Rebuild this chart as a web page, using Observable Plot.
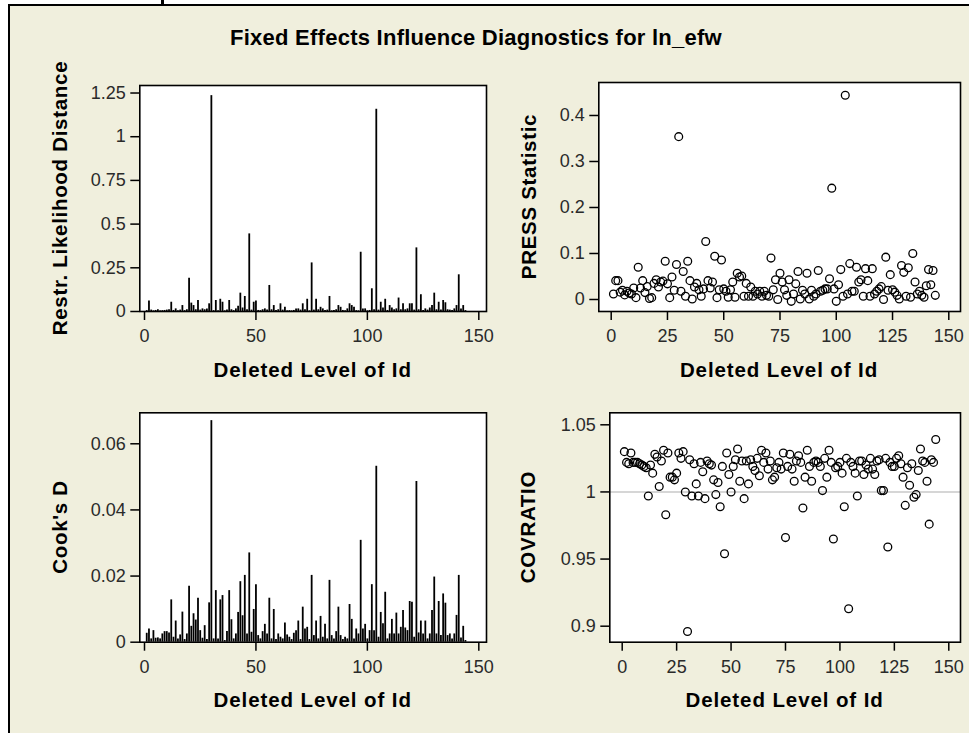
<!DOCTYPE html>
<html>
<head>
<meta charset="utf-8">
<script src="https://cdn.jsdelivr.net/npm/d3@7"></script>
<script src="https://cdn.jsdelivr.net/npm/@observablehq/plot@0.6"></script>
<style>
  html, body { margin: 0; padding: 0; background: #ffffff; }
  #page { position: relative; width: 969px; height: 733px; overflow: hidden; background: #ffffff; }
  #panel { position: absolute; left: 7.5px; top: 4px; right: -10px; bottom: -10px;
           background: #F0EFDD; border-left: 2px solid #000; border-top: 2px solid #000; }
  #stub { position: absolute; left: 161px; top: 0; width: 3px; height: 5px; background: #000; }
  .pl { position: absolute; }
  .pl g[aria-label*="axis"] line, .pl g[aria-label*="axis"] path { stroke-width: 1.5px; stroke: #000; }
  .pl g[aria-label*="axis"] text { fill: #2a2a2a; }
  #labels { position: absolute; left: 0; top: 0; pointer-events: none; }
  #labels text { font-family: "Liberation Sans", Arial, sans-serif; font-weight: bold; fill: #000; }
</style>
</head>
<body>
<div id="page">
  <div id="panel"></div>
  <div id="stub"></div>
  <svg id="labels" width="969" height="733"></svg>
</div>
<script>
// ---- data ----
const ids = [1,2,3,4,5,6,7,8,9,10,11,12,13,14,15,16,17,18,19,20,21,22,23,24,25,26,27,28,29,30,
  31,32,33,34,35,36,37,38,39,40,41,42,43,44,45,46,47,48,49,50,51,52,53,54,55,56,57,58,59,60,
  61,62,63,64,65,66,67,68,69,70,71,72,73,74,75,76,77,78,79,80,81,82,83,84,85,86,87,88,89,90,
  91,92,93,94,95,96,97,98,99,100,101,102,103,104,105,106,107,108,109,110,111,112,113,114,115,
  116,117,118,119,120,121,122,123,124,125,126,127,128,129,130,131,132,133,134,135,136,137,138,
  139,140,141,142,143,144];

const restrLikelihood = [0.005,0.060,0.008,0.004,0.006,0.010,0.004,0.005,0.006,0.008,
  0.010,0.053,0.006,0.015,0.004,0.008,0.034,0.005,0.010,0.190,
  0.048,0.034,0.010,0.063,0.008,0.015,0.010,0.015,0.044,1.235,
  0.005,0.063,0.004,0.070,0.053,0.004,0.008,0.063,0.010,0.005,
  0.015,0.030,0.105,0.020,0.086,0.010,0.444,0.008,0.053,0.060,
  0.006,0.005,0.010,0.015,0.008,0.149,0.010,0.034,0.006,0.010,
  0.044,0.008,0.024,0.004,0.005,0.004,0.006,0.015,0.015,0.008,
  0.044,0.010,0.070,0.004,0.278,0.008,0.070,0.010,0.024,0.015,
  0.006,0.008,0.086,0.004,0.006,0.010,0.034,0.024,0.006,0.004,
  0.015,0.044,0.034,0.024,0.005,0.004,0.339,0.015,0.015,0.004,
  0.006,0.130,0.010,1.157,0.008,0.053,0.020,0.070,0.006,0.034,
  0.020,0.010,0.015,0.077,0.010,0.044,0.010,0.015,0.044,0.044,
  0.008,0.364,0.010,0.096,0.006,0.015,0.008,0.020,0.034,0.105,
  0.010,0.053,0.008,0.063,0.050,0.010,0.008,0.006,0.015,0.034,
  0.210,0.015,0.034,0.005];

const pressStat = [0.012,0.041,0.041,0.016,0.020,0.010,0.018,0.014,0.012,0.025,
  0.004,0.070,0.025,0.041,0.015,0.028,0.002,0.004,0.035,0.043,
  0.027,0.038,0.040,0.083,0.034,0.004,0.049,0.020,0.076,0.354,
  0.018,0.061,0.007,0.083,0.041,0.001,0.027,0.035,0.021,0.007,
  0.023,0.126,0.041,0.025,0.038,0.094,0.004,0.021,0.086,0.023,
  0.018,0.005,0.021,0.038,0.005,0.057,0.049,0.051,0.007,0.035,
  0.007,0.027,0.007,0.018,0.012,0.018,0.007,0.018,0.009,0.007,
  0.090,0.021,0.043,0.000,0.057,0.038,0.021,0.009,0.043,-0.004,
  0.012,0.034,0.061,0.001,0.020,0.012,0.057,0.001,0.020,0.007,
  0.012,0.063,0.018,0.020,0.023,0.023,0.045,0.242,0.023,-0.004,
  0.032,0.065,0.007,0.444,0.012,0.078,0.018,0.018,0.070,0.038,
  0.043,0.007,0.067,0.041,0.007,0.067,0.012,0.018,0.023,0.028,
  0.000,0.092,0.020,0.054,0.021,0.016,0.009,0.001,0.074,0.059,
  0.007,0.069,0.005,0.100,0.038,0.012,0.018,0.009,0.005,0.030,
  0.065,0.032,0.063,0.009];

const cooksD = [0.0027,0.0040,0.0010,0.0035,0.0012,0.0013,0.0010,0.0025,0.0032,0.0032,
  0.0028,0.0128,0.0015,0.0064,0.0010,0.0022,0.0091,0.0008,0.0025,0.0169,
  0.0048,0.0086,0.0067,0.0133,0.0035,0.0012,0.0050,0.0008,0.0119,0.0670,
  0.0010,0.0156,0.0010,0.0128,0.0141,0.0005,0.0032,0.0156,0.0068,0.0010,
  0.0025,0.0090,0.0183,0.0080,0.0202,0.0025,0.0270,0.0030,0.0099,0.0174,
  0.0020,0.0010,0.0032,0.0054,0.0025,0.0133,0.0010,0.0099,0.0008,0.0025,
  0.0015,0.0010,0.0058,0.0022,0.0015,0.0008,0.0027,0.0035,0.0064,0.0008,
  0.0106,0.0040,0.0045,0.0008,0.0202,0.0020,0.0064,0.0010,0.0078,0.0015,
  0.0054,0.0010,0.0187,0.0020,0.0010,0.0032,0.0106,0.0020,0.0008,0.0015,
  0.0010,0.0114,0.0069,0.0010,0.0040,0.0025,0.0308,0.0040,0.0054,0.0010,
  0.0035,0.0174,0.0035,0.0532,0.0015,0.0090,0.0056,0.0151,0.0010,0.0025,
  0.0069,0.0025,0.0088,0.0025,0.0045,0.0096,0.0043,0.0035,0.0123,0.0121,
  0.0015,0.0486,0.0028,0.0064,0.0025,0.0064,0.0010,0.0025,0.0096,0.0197,
  0.0025,0.0123,0.0020,0.0146,0.0118,0.0020,0.0025,0.0010,0.0025,0.0081,
  0.0202,0.0013,0.0048,0.0005];

const covRatio = [1.030,1.022,1.021,1.029,1.022,1.022,1.022,1.021,1.020,1.019,
  1.018,0.997,1.020,1.014,1.028,1.026,1.004,1.023,1.031,0.983,
  1.029,1.011,1.011,1.009,1.014,1.029,1.025,1.030,1.000,0.896,
  1.024,0.997,1.021,1.006,0.997,1.022,1.015,0.995,1.023,1.021,
  1.020,1.009,0.998,1.007,0.989,1.019,0.954,1.029,1.013,1.000,
  1.019,1.024,1.032,1.008,1.023,0.995,1.023,1.006,1.024,1.019,
  1.016,1.025,1.012,1.031,1.022,1.029,1.017,1.023,1.009,1.011,
  1.018,1.022,1.017,1.029,0.966,1.019,1.028,1.017,1.008,1.023,
  1.027,1.022,0.988,1.011,1.031,1.019,1.008,1.022,1.023,1.022,
  1.019,1.001,1.025,1.011,1.031,1.022,0.965,1.018,1.019,1.022,
  1.014,0.989,1.025,0.913,1.022,1.019,1.014,0.997,1.023,1.023,
  1.013,1.020,1.017,1.025,1.017,1.013,1.023,1.024,1.001,1.001,
  1.025,0.959,1.022,1.019,1.019,1.025,1.027,1.021,1.011,0.990,
  1.018,1.005,1.021,0.996,0.998,1.016,1.032,1.023,1.022,1.008,
  0.976,1.024,1.022,1.039];

// tick labels
const xTicksNeedle = [0, 50, 100, 150];
const xTicksScatter = [0, 25, 50, 75, 100, 125, 150];
const yTicksRLD = [0, 0.25, 0.5, 0.75, 1, 1.25];
const yTicksPress = [0, 0.1, 0.2, 0.3, 0.4];
const yTicksCook = [0, 0.02, 0.04, 0.06];
const yTicksCov = [0.9, 0.95, 1, 1.05];

// texts
const titleText = "Fixed Effects Influence Diagnostics for ln_efw";
const xLabelText = "Deleted Level of Id";
const yLabels = ["Restr. Likelihood Distance", "PRESS Statistic", "Cook's D", "COVRATIO"];
const covRef = [1];

const rows = (vals) => ids.map((id, i) => ({id, v: vals[i]}));

function panel({left, top, width, height, ml, mt, mr, mb, xDomain, xTicks, yDomain, yTicks, marks}) {
  const p = Plot.plot({
    width, height,
    marginLeft: ml, marginTop: mt, marginRight: mr, marginBottom: mb,
    style: {background: "transparent", fontSize: "18px",
            fontFamily: "'Liberation Sans', Arial, sans-serif", color: "#000", overflow: "visible"},
    x: {domain: xDomain, ticks: xTicks, tickSize: 9, tickPadding: 9, tickFormat: d => String(d), label: null},
    y: {domain: yDomain, ticks: yTicks, tickSize: 9, tickPadding: 5, tickFormat: d => String(d), label: null},
    marks: [
      Plot.frame({fill: "white", stroke: "none"}),
      ...marks,
      Plot.frame({stroke: "#000", strokeWidth: 1.6, fill: "none"})
    ]
  });
  p.classList.add("pl");
  p.style.left = left + "px";
  p.style.top = top + "px";
  document.getElementById("page").insertBefore(p, document.getElementById("labels"));
}

// Top-left: Restricted likelihood distance (needles)
panel({left: 70, top: 70, width: 430, height: 290, ml: 69.3, mt: 15, mr: 14, mb: 49,
  xDomain: [-2.11, 153.45], xTicks: xTicksNeedle, yDomain: [0, 1.293], yTicks: yTicksRLD,
  marks: [Plot.ruleX(rows(restrLikelihood), {x: "id", y1: 0, y2: "v", stroke: "#000", strokeWidth: 1.8})]});

// Top-right: PRESS statistic (open circles)
panel({left: 540, top: 70, width: 429, height: 290, ml: 58.3, mt: 12, mr: 9, mb: 49,
  xDomain: [-5.51, 155.2], xTicks: xTicksScatter, yDomain: [-0.0261, 0.4717], yTicks: yTicksPress,
  marks: [Plot.dot(rows(pressStat), {x: "id", y: "v", r: 3.9, stroke: "#000", strokeWidth: 1.3, fill: "none"})]});

// Bottom-left: Cook's D (needles)
panel({left: 70, top: 400, width: 430, height: 320, ml: 69.3, mt: 12.3, mr: 14, mb: 78.3,
  xDomain: [-2.11, 153.45], xTicks: xTicksNeedle, yDomain: [0, 0.06937], yTicks: yTicksCook,
  marks: [Plot.ruleX(rows(cooksD), {x: "id", y1: 0, y2: "v", stroke: "#000", strokeWidth: 1.8})]});

// Bottom-right: COVRATIO (open circles + reference line)
panel({left: 540, top: 400, width: 429, height: 320, ml: 69.3, mt: 12.3, mr: 9, mb: 78.3,
  xDomain: [-5.695, 155.38], xTicks: xTicksScatter, yDomain: [0.88808, 1.05894], yTicks: yTicksCov,
  marks: [
    Plot.ruleY(covRef, {stroke: "#c8c8c8", strokeWidth: 1.5}),
    Plot.dot(rows(covRatio), {x: "id", y: "v", r: 3.9, stroke: "#000", strokeWidth: 1.3, fill: "none"})
  ]});

// labels overlay
const svg = d3.select("#labels");
svg.append("text").attr("x", 476).attr("y", 45).attr("text-anchor", "middle")
  .style("font-size", "22px").style("letter-spacing", "0.25px").text(titleText);
const xl = [[312.7, 376.7], [779, 376.7], [312.7, 706.7], [784.6, 706.7]];
xl.forEach(([x, y]) => svg.append("text").attr("x", x).attr("y", y).attr("text-anchor", "middle")
  .style("font-size", "20.5px").style("letter-spacing", "0.9px").text(xLabelText));
const yl = [[66.7, 198], [536, 196.5], [66.7, 527], [535, 527]];
yl.forEach(([x, y], i) => svg.append("text").attr("transform", `translate(${x},${y}) rotate(-90)`)
  .attr("text-anchor", "middle").style("font-size", "20.5px").style("letter-spacing", "0.7px").text(yLabels[i]));
</script>
</body>
</html>
